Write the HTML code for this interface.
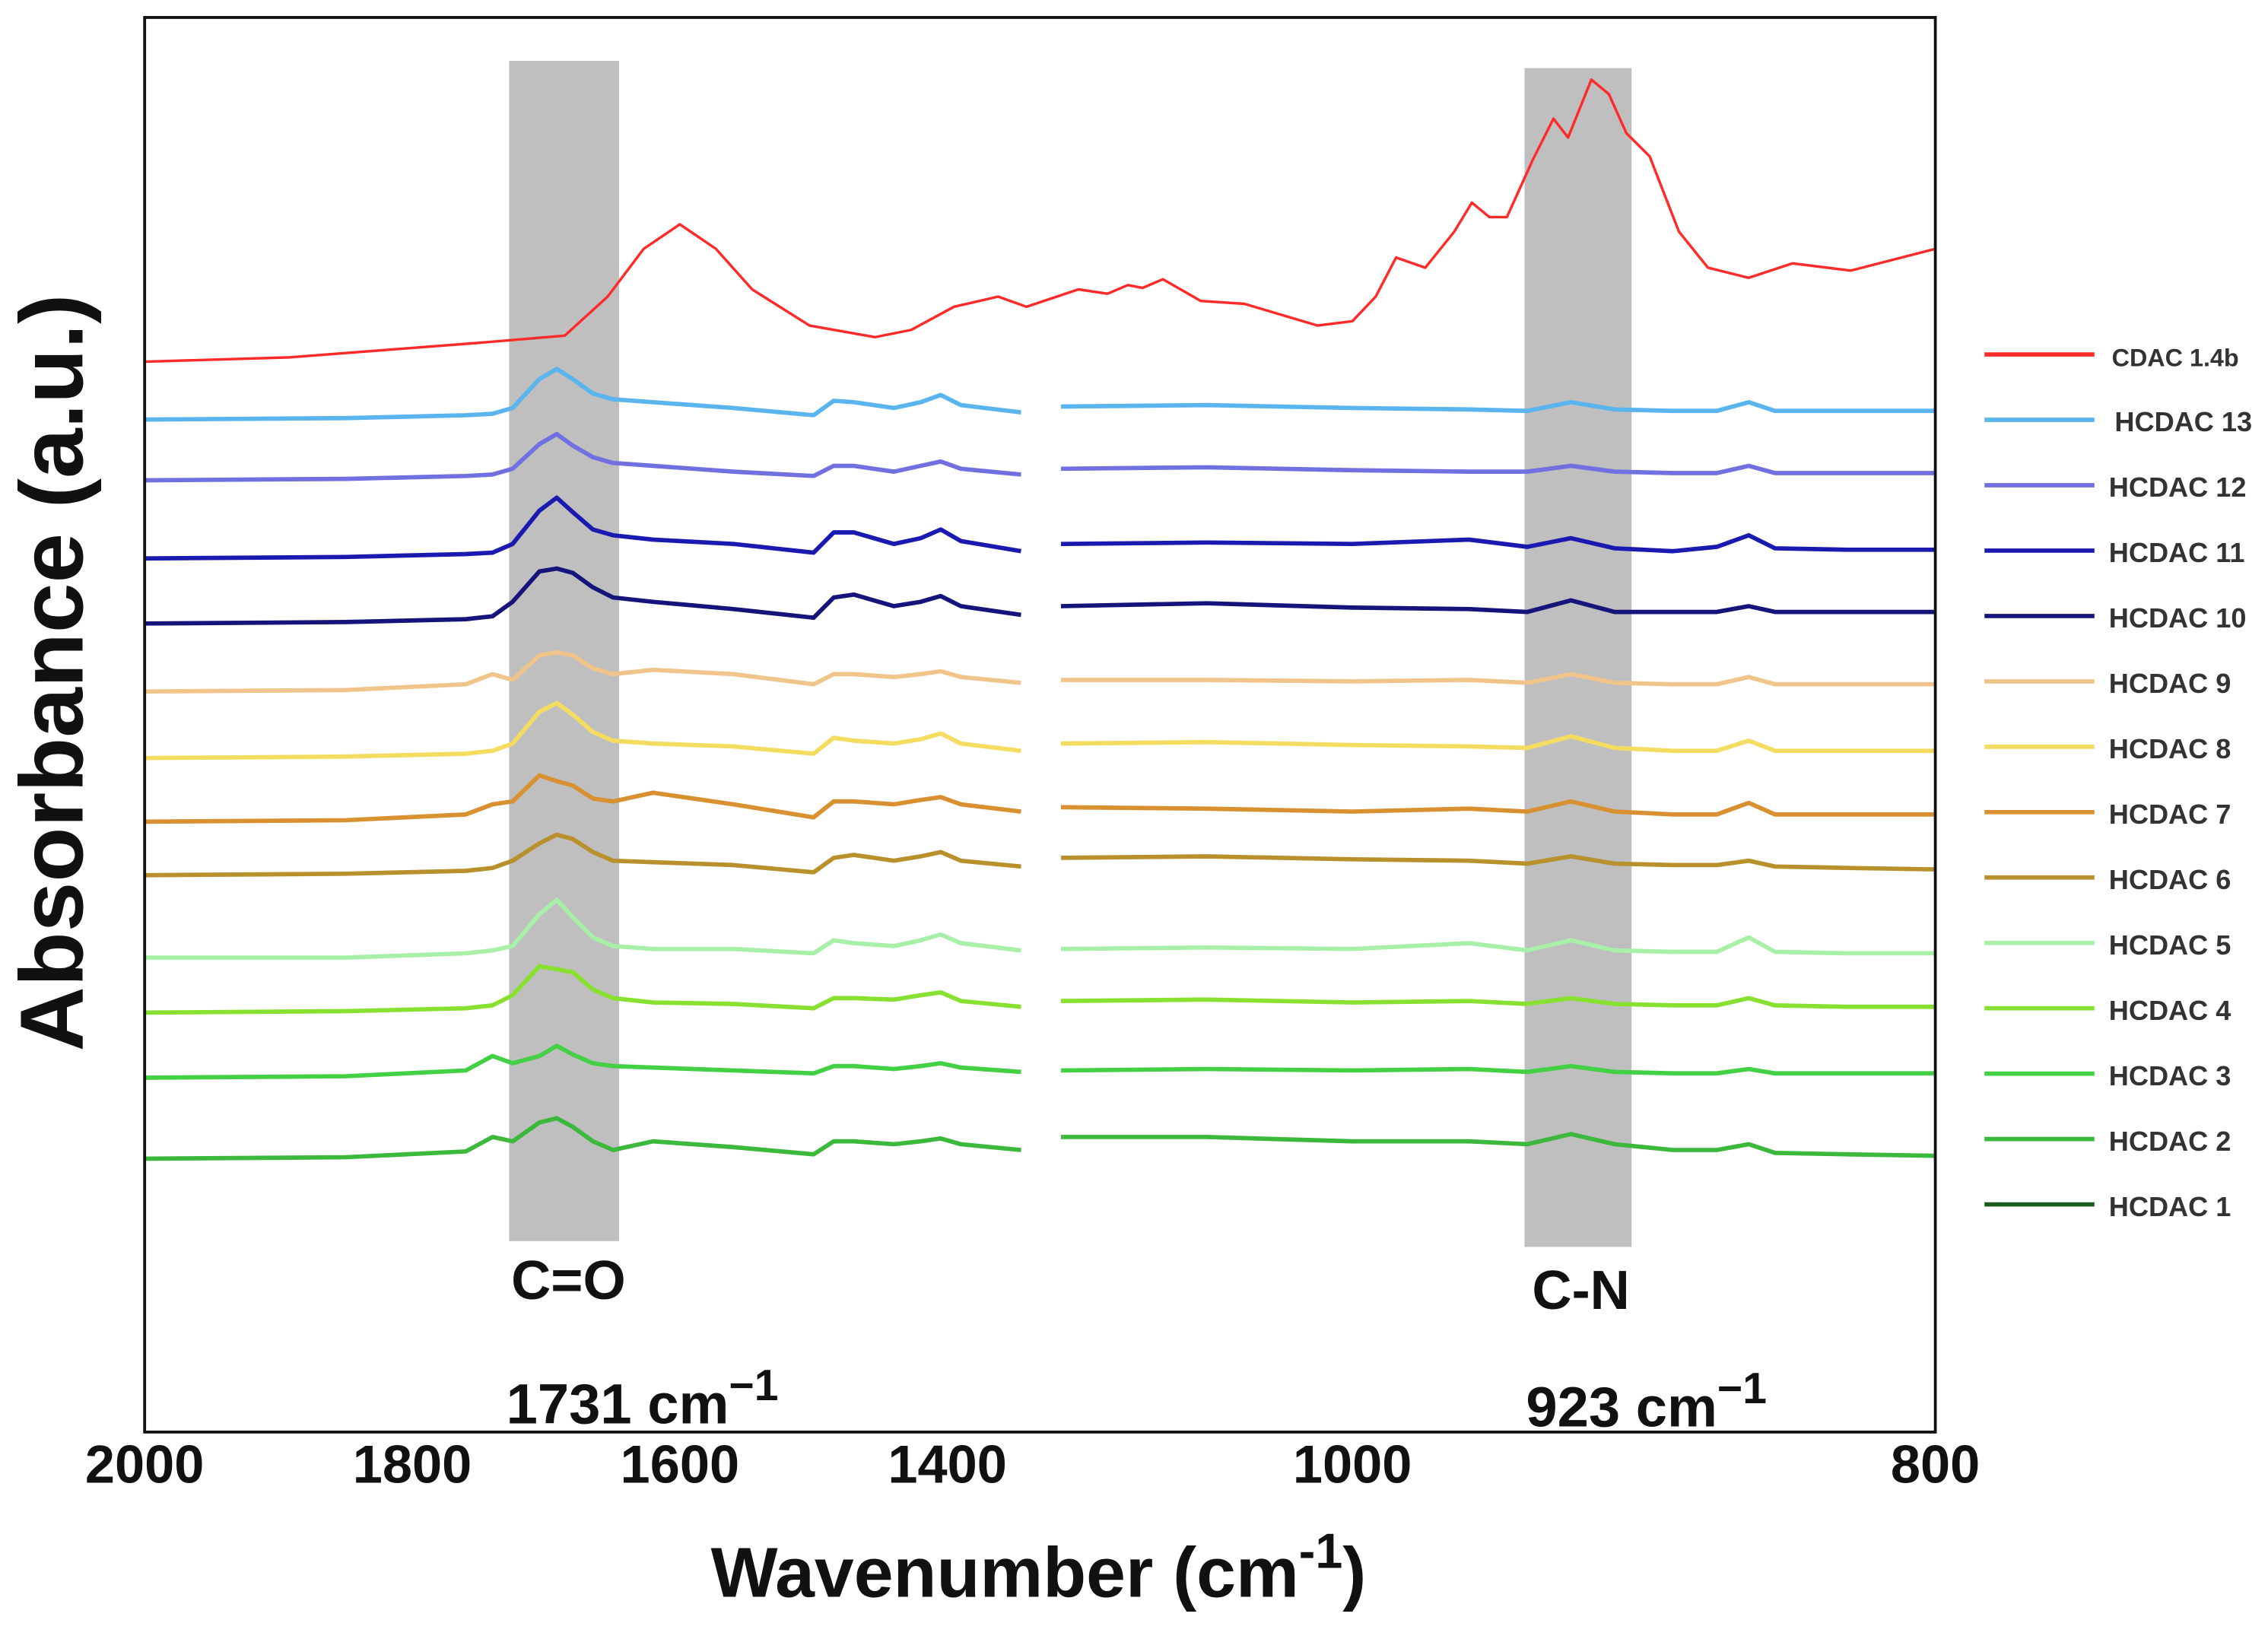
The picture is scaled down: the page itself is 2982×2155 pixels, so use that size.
<!DOCTYPE html>
<html><head><meta charset="utf-8"><style>
html,body{margin:0;padding:0;background:#fff}
svg{display:block}
text{font-family:"Liberation Sans",Arial,sans-serif;font-weight:bold}
</style></head><body>
<svg id="chart" width="2982" height="2155" viewBox="0 0 1568 1133" xmlns="http://www.w3.org/2000/svg">
<rect x="0" y="0" width="1568" height="1133" fill="#fff"/>
<rect x="352" y="42" width="76" height="816" fill="#bfbfbf"/>
<rect x="1054" y="47" width="74" height="815" fill="#bfbfbf"/>
<g id="series"></g>
<rect x="100" y="12" width="1238" height="978" fill="none" stroke="#111" stroke-width="2"/>
<g id="ticks"></g>
<text x="393" y="898" font-size="38" text-anchor="middle" fill="#111">C=O</text>
<text x="350" y="984" font-size="39" fill="#111">1731 cm<tspan font-size="30" dy="-16">−1</tspan></text>
<text x="1093" y="905" font-size="38" text-anchor="middle" fill="#111">C-N</text>
<text x="1055" y="986" font-size="39" fill="#111">923 cm<tspan font-size="30" dy="-16">−1</tspan></text>
<text x="718" y="1104" font-size="49" text-anchor="middle" fill="#111">Wavenumber (cm<tspan font-size="34" dy="-20">-1</tspan><tspan dy="20">)</tspan></text>
<text transform="translate(57,465) rotate(-90)" font-size="62" text-anchor="middle" fill="#111">Absorbance (a.u.)</text>
<g id="legend"></g>
</svg>
<script>
const tickValues=[2000,1800,1600,1400,1000,800];
const seriesNames=["CDAC 1.4b","HCDAC 13","HCDAC 12","HCDAC 11","HCDAC 10","HCDAC 9","HCDAC 8","HCDAC 7","HCDAC 6","HCDAC 5","HCDAC 4","HCDAC 3","HCDAC 2","HCDAC 1"];
const seriesColors=["#ff2a2a","#5ab4ee","#7070e0","#1a1ab0","#14147a","#f0c48a","#f4dc60","#d89030","#b8902c","#a8f0a8","#88e030","#44d044","#3cb83c","#1a5a1a"];
const redWn=[2000,1892,1751,1686,1654,1627,1600,1573,1546,1503,1454,1427,1395,1362,1341,1094,1084,1077,1072,1065,1052,1037,1012,1000,992,985,975,965,959,953,947,938,931,926,918,912,906,898,888,878,864,849,829,800];
const redAbs=[7.40,7.43,7.53,7.58,7.85,8.18,8.35,8.18,7.90,7.65,7.57,7.62,7.78,7.85,7.78,7.90,7.87,7.93,7.91,7.97,7.82,7.80,7.65,7.68,7.85,8.12,8.05,8.30,8.50,8.40,8.40,8.80,9.08,8.95,9.35,9.25,8.98,8.82,8.30,8.05,7.98,8.08,8.03,8.18];
const leftWn=[2000,1850,1760,1740,1725,1705,1692,1680,1665,1650,1620,1560,1500,1485,1470,1440,1420,1405,1390,1345];
const rightWn=[1100,1050,1000,960,940,925,910,890,875,864,855,830,800];
const baselines=[7.00,6.58,6.04,5.59,5.12,4.66,4.22,3.85,3.28,2.90,2.45,1.89];
const leftVals=[
[0,1,3,4,8,28,35,28,18,14,12,8,3,13,12,8,12,17,10,5],
[0,1,3,4,8,25,32,24,16,12,10,6,3,10,10,6,10,13,8,4],
[0,1,3,4,10,33,42,32,20,16,13,10,4,18,18,10,14,20,12,5],
[0,1,3,5,15,36,38,35,25,18,15,10,4,18,20,12,15,19,12,6],
[0,1,5,12,8,25,27,25,16,12,15,12,5,12,12,10,12,14,10,6],
[0,1,3,5,10,32,38,30,18,12,10,8,3,14,12,10,13,17,10,5],
[0,1,5,12,14,32,28,25,16,14,20,12,3,14,14,12,15,17,12,7],
[0,1,3,5,10,22,28,25,16,10,9,7,2,12,14,10,13,16,10,6],
[0,0,3,5,8,30,40,28,14,8,6,6,3,12,10,8,12,16,10,5],
[0,1,3,5,12,32,30,28,16,10,7,6,3,10,10,9,12,14,8,4],
[0,1,5,15,10,15,22,16,10,8,7,5,3,8,8,6,8,10,7,4],
[0,1,5,15,12,25,28,22,12,6,12,8,3,12,12,10,12,14,10,6]];
const rightVals=[
[9,10,8,7,6,12,7,6,6,12,6,6,6],
[8,9,7,6,6,10,6,5,5,10,5,5,5],
[10,11,10,13,8,14,7,5,8,16,7,6,6],
[12,14,11,10,8,16,8,8,8,12,8,8,8],
[8,8,7,8,6,12,6,5,5,10,5,5,5],
[10,11,9,8,7,15,7,5,5,12,5,5,5],
[10,9,7,9,7,14,7,5,5,13,5,5,5],
[12,13,11,10,8,13,8,7,7,10,6,5,4],
[6,7,6,10,5,12,5,4,4,14,4,3,3],
[8,9,7,8,6,10,6,5,5,10,5,4,4],
[5,6,5,6,4,8,4,3,3,6,3,3,3],
[15,15,12,12,10,17,10,6,6,10,4,3,2]];

const NS="http://www.w3.org/2000/svg";
function xScale(wn){
  if(wn>=1340) return 100+(2000-wn)*0.925;
  if(wn<=1100) return 935+(1000-wn)*2.015;
  return 711+(1340-wn)/240*19;
}
function yScale(a){return 990-a*100;}
function mk(tag,attrs){const e=document.createElementNS(NS,tag);for(const k in attrs)e.setAttribute(k,attrs[k]);return e;}
function pathD(xs,ys){return xs.map((x,i)=>(i?"L":"M")+x.toFixed(1)+" "+ys[i].toFixed(1)).join(" ");}

const sg=document.getElementById("series");
const red=mk("path",{d:pathD(redWn.map(xScale),redAbs.map(yScale)),fill:"none",stroke:seriesColors[0],"stroke-width":"1.8","stroke-linejoin":"round"});


sg.appendChild(red);
for(let s=0;s<baselines.length;s++){
  const col=seriesColors[s+1];
  const lp=mk("path",{d:pathD(leftWn.map(xScale),leftVals[s].map(v=>yScale(baselines[s]+v/100))),fill:"none",stroke:col,"stroke-width":"3","stroke-linejoin":"round"});
  
  
  sg.appendChild(lp);
  const rp=mk("path",{d:pathD(rightWn.map(xScale),rightVals[s].map(v=>yScale(baselines[s]+v/100))),fill:"none",stroke:col,"stroke-width":"3","stroke-linejoin":"round"});
  
  
  sg.appendChild(rp);
}
const tg=document.getElementById("ticks");
tickValues.forEach(v=>{
  const t=mk("text",{x:xScale(v),y:1025,"font-size":"37","text-anchor":"middle",fill:"#111"});
  t.textContent=v;
  
  
  tg.appendChild(t);
});
const lg=document.getElementById("legend");
seriesNames.forEach((n,i)=>{
  const y=245+i*45.2;
  const ln=mk("line",{x1:1372,x2:1448,y1:y,y2:y,stroke:seriesColors[i],"stroke-width":"3"});
  
  
  lg.appendChild(ln);
  const t=mk("text",{x:i===0?1460:(i===1?1462:1458),y:y+8,"font-size":i===0?"17":"19",fill:"#333"});
  t.textContent=n;
  
  
  lg.appendChild(t);
});
</script>
</body></html>
